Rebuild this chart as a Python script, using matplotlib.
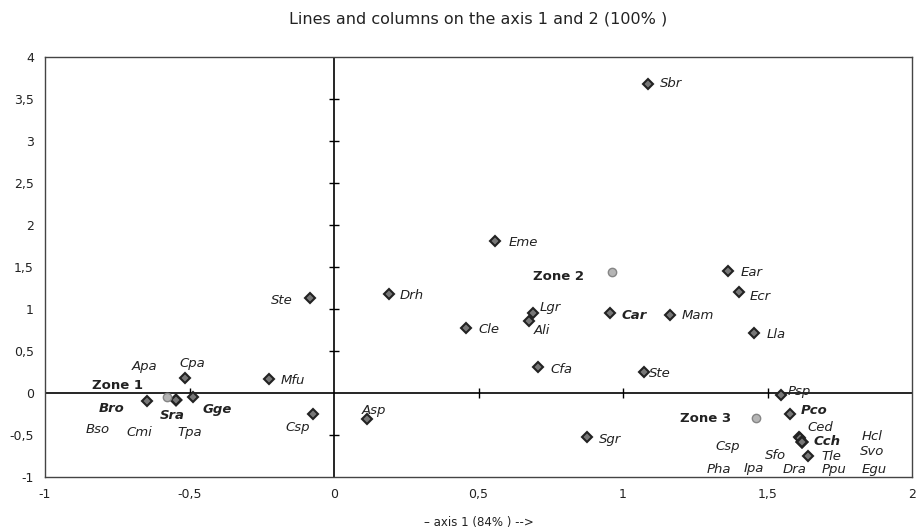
import numpy as np
import matplotlib.pyplot as plt

plt.rcParams['font.family'] = ['DejaVu Sans']

# Data -------------------------------------------------------------------------
# species (lines), coordinates on axis 1 and axis 2
species = ['Sbr', 'Eme', 'Ear', 'Drh', 'Ecr', 'Lgr', 'Ali', 'Car', 'Mam', 'Cle',
           'Lla', 'Cfa', 'Ste', 'Ste', 'Mfu', 'Cpa', 'Apa', 'Bso', 'Cmi', 'Tpa',
           'Sra', 'Bro', 'Gge', 'Csp', 'Asp', 'Sgr', 'Psp', 'Pco', 'Ced', 'Cch',
           'Tle', 'Csp', 'Sfo', 'Pha', 'Ipa', 'Dra', 'Ppu', 'Hcl', 'Svo', 'Egu']
sp_x = [1.086, 0.557, 1.364, 0.190, 1.400, 0.690, 0.675, 0.954, 1.161, 0.457,
        1.454, 0.707, 1.072, -0.083, -0.226, -0.517, -0.548, -0.548, -0.548, -0.548,
        -0.548, -0.647, -0.489, -0.072, 0.115, 0.875, 1.546, 1.577, 1.608, 1.613,
        1.640, 1.620, 1.620, 1.620, 1.620, 1.620, 1.620, 1.620, 1.620, 1.620]
sp_y = [3.68, 1.813, 1.452, 1.180, 1.200, 0.950, 0.857, 0.949, 0.929, 0.770,
        0.720, 0.313, 0.254, 1.130, 0.167, 0.180, -0.083, -0.083, -0.083, -0.083,
        -0.083, -0.100, -0.050, -0.250, -0.310, -0.527, -0.024, -0.250, -0.520, -0.540,
        -0.750, -0.580, -0.580, -0.580, -0.580, -0.580, -0.580, -0.580, -0.580, -0.580]
bold_species = ['Bro', 'Sra', 'Gge', 'Car', 'Pco', 'Cch']

# zones (columns)
zones = ['Zone 1', 'Zone 2', 'Zone 3']
zone_x = [-0.578, 0.962, 1.460]
zone_y = [-0.044, 1.437, -0.294]

x_ticks = [-1, -0.5, 0, 0.5, 1, 1.5, 2]
x_ticklabels = ['-1', '-0,5', '0', '0,5', '1', '1,5', '2']
y_ticks = [-1, -0.5, 0, 0.5, 1, 1.5, 2, 2.5, 3, 3.5, 4]
y_ticklabels = ['-1', '-0,5', '0', '0,5', '1', '1,5', '2', '2,5', '3', '3,5', '4']

# label placement (offset of the label centre from its point, in pixels)
sp_offset = [(23, 0), (28, -2), (23, -1), (23, -2), (22, -4), (17, 6), (13, -9), (24, -2), (28, -1), (23, -1),
             (22, -2), (23, -3), (16, -2), (-28, -2), (24, -2), (8, 14), (-31, 33), (-78, -30), (-36, -33), (14, -33),
             (-3, -16), (-35, -7), (25, -12), (-16, -13), (7, 9), (23, -2), (18, 4), (24, 3), (22, 9), (27, -3),
             (23, 0), (-74, -5), (-27, -14), (-83, -28), (-48, -27), (-8, -28), (32, -28), (70, 5), (70, -10), (72, -28)]
zone_offset = [(-49, 11), (-54, -4), (-50, -1)]

# Figure ----------------------------------------------------------------------
fig = plt.figure(figsize=(9.16, 5.32), dpi=100)
ax = fig.add_axes([45/916, 1 - 477/532, (912 - 45)/916, (477 - 57)/532])

ax.set_xlim(-1, 2)
ax.set_ylim(-1, 4)

# central axes with small cross ticks
ax.axhline(0, color='black', lw=1.2, zorder=1)
ax.axvline(0, color='black', lw=1.2, zorder=1)
xt = [t for t in x_ticks if t not in (-1, 0, 2)]
yt = [t for t in y_ticks if t not in (-1, 0, 4)]
ax.plot(xt, np.zeros(len(xt)), '|', color='black', ms=7, mew=1, zorder=1)
ax.plot(np.zeros(len(yt)), yt, '_', color='black', ms=7, mew=1, zorder=1)

# points
ax.plot(sp_x, sp_y, 'D', ms=5, mfc='#777777', mec='#222222', mew=1.5, ls='none', zorder=3)
ax.plot(zone_x, zone_y, 'o', ms=6, mfc='#b5b5b5', mec='#858585', mew=1, ls='none', zorder=3)

for name, x, y, off in zip(species, sp_x, sp_y, sp_offset):
    weight = 'bold' if name in bold_species else 'normal'
    ax.annotate(name, (x, y), xytext=off, textcoords='offset pixels',
                ha='center', va='center', fontsize=9.5, style='italic',
                fontweight=weight, color='#222222')

for name, x, y, off in zip(zones, zone_x, zone_y, zone_offset):
    ax.annotate(name, (x, y), xytext=off, textcoords='offset pixels',
                ha='center', va='center', fontsize=9.5, fontweight='bold',
                color='#222222')

ax.set_xticks(x_ticks)
ax.set_xticklabels(x_ticklabels)
ax.set_yticks(y_ticks)
ax.set_yticklabels(y_ticklabels)
ax.tick_params(length=0, labelsize=9, pad=8, colors='#222222')
for s in ax.spines.values():
    s.set_color('#444444')
    s.set_linewidth(1)

ax.set_title('Lines and columns on the axis 1 and 2 (100% )', fontsize=11.5, pad=24,
             color='#222222')
ax.set_xlabel('\u2013 axis 1 (84% ) -->', fontsize=8.5, labelpad=11, color='#222222')

fig.savefig('out.png', dpi=100)
